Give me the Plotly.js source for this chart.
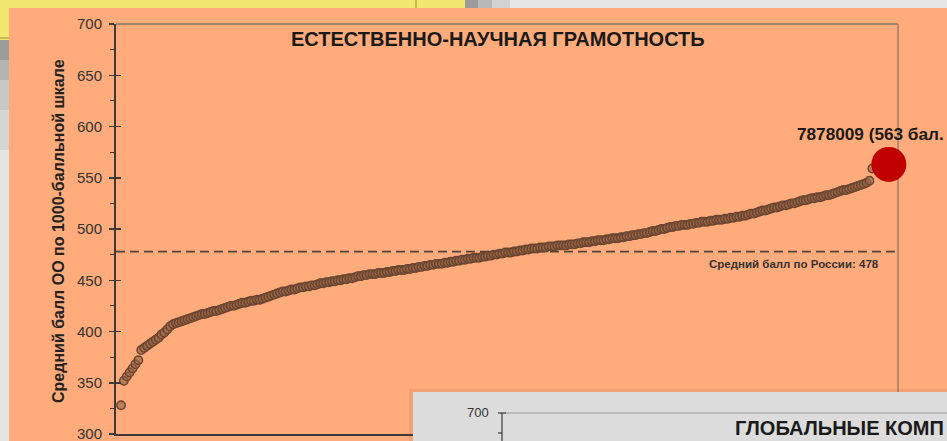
<!DOCTYPE html>
<html>
<head>
<meta charset="utf-8">
<script src="https://cdn.plot.ly/plotly-3.0.1.min.js"></script>
<style>
html,body{margin:0;padding:0;background:#FFAB7B;overflow:hidden;}
#chart{width:947px;height:441px;}
</style>
</head>
<body>
<div id="chart"></div>
<script>
// ---- data ----
var chartTitle = "ЕСТЕСТВЕННО-НАУЧНАЯ ГРАМОТНОСТЬ";
var yAxisTitle = "Средний балл ОО по 1000-балльной шкале";
var yTickValues = [300, 350, 400, 450, 500, 550, 600, 650, 700];
var yTickLabels = ["300", "350", "400", "450", "500", "550", "600", "650", "700"];
var schoolScores = [
328,352,356,360,364,368,372,382,384,386,
388,390,392,394,397,399,402,405,407,408,
409,410,411,412,413,414,415,416,417,417,
418,419,420,420,421,422,423,424,425,425,
426,427,428,428,429,430,430,431,431,432,
433,434,435,436,437,438,439,439,440,441,
441,442,443,443,444,444,445,445,446,447,
447,448,448,449,449,450,450,451,451,452,
452,453,454,454,455,455,456,456,456,457,
457,457,458,458,459,459,460,460,460,461,
461,462,462,463,463,464,464,465,465,466,
466,466,467,467,468,468,469,469,470,470,
471,471,472,472,472,473,473,474,474,475,
475,476,476,477,477,477,478,478,479,479,
480,480,481,481,481,482,482,482,483,483,
483,484,484,484,484,485,485,485,486,486,
487,487,487,488,488,489,489,489,490,490,
491,491,491,492,492,493,493,494,494,495,
495,496,496,497,498,498,499,500,500,501,
502,502,503,503,504,504,504,505,505,506,
506,507,507,507,508,508,509,509,509,510,
510,511,511,512,512,513,513,514,515,515,
516,517,518,518,519,520,521,521,522,523,
523,524,525,525,526,527,528,528,529,530,
530,531,531,532,533,533,534,535,536,537,
538,538,539,540,541,542,543,544,545,547,
559
];
var schoolRanks = schoolScores.map(function(_, i){ return i + 1; });
var highlightLabel = "7878009 (563 бал.";
var highlightScore = 563;
var highlightRank = 266.7;
var russiaAverage = 478;
var russiaLabel = "Средний балл по России: " + russiaAverage;
var nextChartTitle = "ГЛОБАЛЬНЫЕ КОМП";
var nextChartTopTick = "700";

// ---- layout helpers (pixel -> paper) ----
var M = {l:116, r:49, t:24, b:7};
var W = 947, H = 441;
var PW = W - M.l - M.r, PH = H - M.t - M.b;
function X(px){ return (px - M.l) / PW; }
function Y(py){ return 1 - (py - M.t) / PH; }
function rect(x0,y0,x1,y1,fill){
  return {type:'rect', xref:'paper', yref:'paper', x0:X(x0), x1:X(x1), y0:Y(y1), y1:Y(y0),
          fillcolor:fill, line:{width:0}, layer:'above'};
}
function seg(x0,y0,x1,y1,color,w){
  return {type:'line', xref:'paper', yref:'paper', x0:X(x0), x1:X(x1), y0:Y(y0), y1:Y(y1),
          line:{color:color, width:w}, layer:'above'};
}

var font = "Liberation Sans, Arial, sans-serif";

var traces = [
  {
    x: schoolRanks, y: schoolScores, type:'scatter', mode:'markers',
    marker:{size:8.5, color:'rgba(150,100,68,0.62)', line:{color:'#6a4530', width:1.4}},
    hoverinfo:'skip', showlegend:false
  },
  {
    x:[highlightRank], y:[highlightScore], type:'scatter', mode:'markers', cliponaxis:false,
    marker:{size:35, color:'#C00000', line:{width:0}},
    hoverinfo:'skip', showlegend:false
  },
  { x:[null], y:[null], yaxis:'y2', type:'scatter', mode:'markers', showlegend:false, hoverinfo:'skip' }
];

var shapes = [
  {type:'line', xref:'paper', yref:'paper', x0:0, x1:1, y0:1, y1:1, line:{color:'#8f7565', width:1.3}, layer:'below'},
  {type:'line', xref:'paper', yref:'paper', x0:1, x1:1, y0:0, y1:1, line:{color:'#8f7565', width:1.3}, layer:'below'},
  {type:'line', xref:'paper', yref:'y', x0:0, x1:0.996, y0:russiaAverage, y1:russiaAverage,
   line:{color:'#54423a', width:1.8, dash:'9px,5px'}, layer:'below'},
  // slide background pieces
  rect(0,0,947,8,'#e6e6e6'),
  rect(0,0,465,8,'#F2E76E'),
  rect(465,0,478,8,'#9a9a9a'),
  rect(478,0,492,8,'#b8b8b8'),
  rect(492,0,510,8,'#d2d2d2'),
  seg(416,0,416,8,'#a89a4a',1.2),
  rect(0,0,9,441,'#e4e4e4'),
  rect(0,0,9,40,'#F2E76E'),
  seg(0,38,9,38,'#a89a4a',1.2),
  rect(0,40,9,60,'#9c9c9c'),
  rect(0,60,9,80,'#b4b4b4'),
  rect(0,80,9,110,'#c8c8c8'),
  rect(0,110,9,150,'#d6d6d6'),
  // next chart panel
  rect(409,389,947,441,'rgba(120,80,50,0.10)'),
  rect(413,392,947,441,'#dcdcdc'),
  seg(505,413,947,413,'#9a9a9a',1.2),
  seg(502,413,502,441,'#444',1.3),
  seg(498,413,506,413,'#444',1.3),
  seg(498,433,502,433,'#444',1.3)
];

var annotations = [
  {text:'<b>' + chartTitle + '</b>', xref:'paper', yref:'paper', x:X(498), y:Y(39),
   xanchor:'center', yanchor:'middle', showarrow:false, font:{family:font, size:20, color:'#1a1a1a'}},
  {text:'<b>' + highlightLabel + '</b>', xref:'paper', yref:'paper', x:X(946), y:Y(134),
   xanchor:'right', yanchor:'middle', showarrow:false, font:{family:font, size:17.2, color:'#1a1a1a'}},
  {text:'<b>' + russiaLabel + '</b>', xref:'paper', yref:'paper', x:X(881), y:Y(264),
   xanchor:'right', yanchor:'middle', showarrow:false, font:{family:font, size:11.5, color:'#333'}},
  {text:'<b>' + yAxisTitle + '</b>', xref:'paper', yref:'paper', x:X(58), y:Y(231), textangle:-90,
   xanchor:'center', yanchor:'middle', showarrow:false, font:{family:font, size:16, color:'#222'}},
  {text:nextChartTopTick, xref:'paper', yref:'paper', x:X(491), y:Y(412),
   xanchor:'right', yanchor:'middle', showarrow:false, font:{family:font, size:13, color:'#333'}},
  {text:'<b>' + nextChartTitle + '</b>', xref:'paper', yref:'paper', x:X(946), y:Y(428),
   xanchor:'right', yanchor:'middle', showarrow:false, font:{family:font, size:20, color:'#1a1a1a'}}
];

var layout = {
  width:W, height:H,
  margin:{l:M.l, r:M.r, t:M.t, b:M.b, pad:0},
  paper_bgcolor:'#FFAB7B', plot_bgcolor:'#FFAB7B',
  showlegend:false,
  xaxis:{range:[-0.73, 269.87], showline:true, linecolor:'#3a3a3a', linewidth:2,
         ticks:'', showticklabels:false, showgrid:false, zeroline:false, fixedrange:true},
  yaxis:{range:[300,700], tickvals:yTickValues, ticktext:yTickLabels, ticks:'outside', ticklen:5, tickwidth:1.5,
         tickcolor:'#3a3a3a', showline:true, linecolor:'#3a3a3a', linewidth:2, showgrid:false, zeroline:false,
         ticklabelstandoff:4, ticklabeloverflow:'allow', tickfont:{family:font, size:15, color:'#333'},
         minor:{dtick:25, tick0:300, ticks:'outside', ticklen:4, tickwidth:1.2, tickcolor:'#3a3a3a', showgrid:false},
         fixedrange:true},
  yaxis2:{overlaying:'y', side:'left', range:[300,700], tickvals:yTickValues, ticks:'inside', ticklen:5, tickwidth:1.5,
          tickcolor:'#3a3a3a', showticklabels:false, showgrid:false, zeroline:false, showline:false, fixedrange:true},
  shapes:shapes,
  annotations:annotations
};

Plotly.newPlot('chart', traces, layout, {staticPlot:true, displayModeBar:false});
</script>
</body>
</html>
